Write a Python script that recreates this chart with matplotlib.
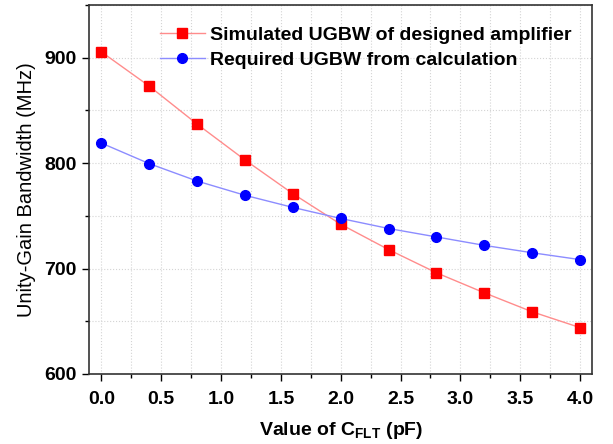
import matplotlib
matplotlib.use("Agg")
import matplotlib.pyplot as plt
from matplotlib.ticker import MultipleLocator

plt.rcParams['font.family'] = ['Liberation Sans', 'DejaVu Sans']
plt.rcParams['mathtext.fontset'] = 'custom'
plt.rcParams['mathtext.bf'] = 'Liberation Sans:bold'
plt.rcParams['mathtext.rm'] = 'Liberation Sans'

x_vals = [0.0, 0.4, 0.8, 1.2, 1.6, 2.0, 2.4, 2.8, 3.2, 3.6, 4.0]
simulated = [905.5, 873, 837, 803, 771, 742, 718, 696, 677, 659, 644]
required = [819, 799.5, 783, 769.5, 758, 747.5, 738, 730, 722, 715, 708.5]
label_sim = "Simulated UGBW of designed amplifier"
label_req = "Required UGBW from calculation"

fig = plt.figure(figsize=(6.13, 4.44), dpi=100)
ax = fig.add_axes([0.146, 0.1577, 0.8197, 0.831])

ax.plot(x_vals, simulated, color='#ff8c8c', lw=1.0, marker='s', ms=6.5,
        mfc='red', mec='red', label=label_sim, zorder=3)
ax.plot(x_vals, required, color='#8c8cff', lw=1.0, marker='o', ms=7,
        mfc='blue', mec='blue', label=label_req, zorder=3)

ax.set_xlim(-0.1, 4.1)
ax.set_ylim(600, 950)
ax.xaxis.set_minor_locator(MultipleLocator(0.25))
ax.yaxis.set_major_locator(MultipleLocator(100))
ax.yaxis.set_minor_locator(MultipleLocator(50))
ax.set_xticks([0, 0.5, 1.0, 1.5, 2.0, 2.5, 3.0, 3.5, 4.0])
ax.set_xticklabels(['0.0', '0.5', '1.0', '1.5', '2.0', '2.5', '3.0', '3.5', '4.0'])

ax.grid(True, which='both', color='#d4d4d4', linestyle=':', linewidth=0.8)
ax.tick_params(which='major', direction='out', length=5, width=1, labelsize=14)
ax.tick_params(axis='x', which='major', pad=7)
ax.tick_params(axis='y', which='major', pad=4)
ax.tick_params(which='minor', direction='out', length=3, width=1)
for lab in ax.get_xticklabels() + ax.get_yticklabels():
    lab.set_fontweight('bold')
for sp in ax.spines.values():
    sp.set_linewidth(1.2)
    sp.set_color('#333333')

ax.set_xlabel(r'Value of C$_{\mathbf{FLT}}$ (pF)', fontsize=14, fontweight='bold', labelpad=9)
ax.set_ylabel('Unity-Gain Bandwidth (MHz)', fontsize=14.5, fontweight='normal', labelpad=6)

leg = ax.legend(loc='upper right', bbox_to_anchor=(0.96, 0.943), frameon=False,
                prop={'size': 14, 'weight': 'bold'}, handlelength=2.3,
                handletextpad=0.3, labelspacing=0.4, borderpad=0, borderaxespad=0)

fig.savefig('out.png', dpi=100)
